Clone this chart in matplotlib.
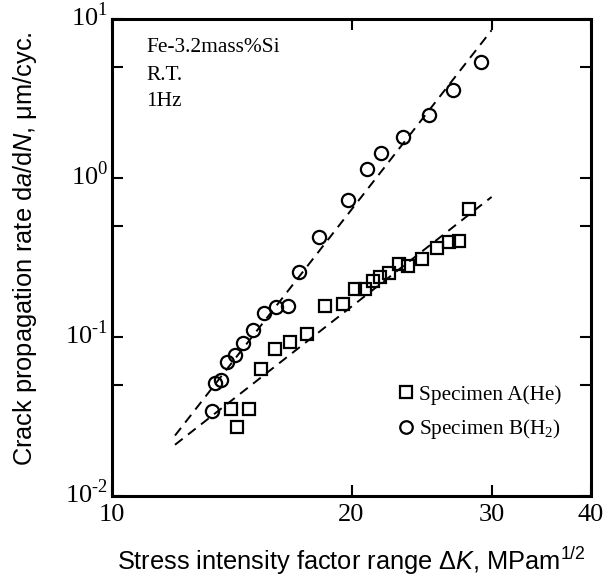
import numpy as np
import matplotlib
matplotlib.use('Agg')
import matplotlib.pyplot as plt
import matplotlib.transforms as mtransforms

plt.rcParams['mathtext.fontset'] = 'custom'
plt.rcParams['mathtext.rm'] = 'Liberation Serif'
plt.rcParams['mathtext.it'] = 'Liberation Sans:italic'
plt.rcParams['mathtext.sf'] = 'Liberation Sans'

# Specimen A (He) - squares
dk_a = [14.12, 14.37, 14.88, 15.38, 16.02, 16.74, 17.57, 18.54, 19.53, 20.22,
        20.81, 21.27, 21.72, 22.31, 22.93, 23.55, 24.53, 25.59, 26.54, 27.33, 28.07]
rate_a = [0.035, 0.027, 0.0351, 0.0627, 0.0838, 0.093, 0.104, 0.157, 0.161, 0.200,
          0.200, 0.225, 0.239, 0.254, 0.287, 0.281, 0.310, 0.361, 0.395, 0.404, 0.638]

# Specimen B (H2) - circles
dk_b = [13.36, 13.49, 13.70, 13.96, 14.29, 14.62, 15.05, 15.52, 16.07, 16.64,
        17.20, 18.22, 19.80, 20.94, 21.80, 23.23, 25.05, 26.80, 29.06]
rate_b = [0.0343, 0.0511, 0.0537, 0.070, 0.077, 0.0912, 0.111, 0.141, 0.155, 0.157,
          0.258, 0.428, 0.728, 1.14, 1.44, 1.82, 2.49, 3.58, 5.39]

# dashed fit lines (end points)
fit_x = [12.0, 30.0]
fit_a = [0.021, 0.76]
fit_b = [0.024, 8.5]

xticks = [10, 20, 30, 40]
yticks = [0.01, 0.1, 1, 10]
yexp = ['\u20102', '\u20101', '0', '1']

fig = plt.figure(figsize=(6.04, 5.78), dpi=100)
ax = fig.add_axes([112/604, 1-496/578, 479/604, 477/578])

ax.plot(fit_x, fit_a, color='k', ls=(0, (5, 3.5)), lw=1.4)
ax.plot(fit_x, fit_b, color='k', ls=(0, (5, 3.5)), lw=1.4)

ax.plot(dk_a, rate_a, ls='none', marker='s', ms=8.5, mfc='none', mec='k', mew=1.6,
        label='Specimen A(He)')
ax.plot(dk_b, rate_b, ls='none', marker='o', ms=9.5, mfc='none', mec='k', mew=1.6,
        label='Specimen B(H$_2$)')

ax.set_xscale('log')
ax.set_yscale('log')
ax.set_xlim(10, 40)
ax.set_ylim(0.01, 10)

ax.set_xticks(xticks)
ax.set_xticklabels([str(t) for t in xticks], family='Liberation Serif', fontsize=19)
ax.xaxis.set_minor_locator(matplotlib.ticker.NullLocator())
ax.set_yticks(yticks)
ax.set_yticklabels(['$\\mathrm{10}^{\\mathrm{%s}}$' % e for e in yexp], fontsize=19)
ax.set_yticks([0.05, 0.5, 5], minor=True)
ax.yaxis.set_minor_formatter(matplotlib.ticker.NullFormatter())

ax.tick_params(which='both', direction='in', top=True, right=True,
               length=8, width=1.5)
ax.tick_params(axis='x', pad=6)
ax.tick_params(axis='y', pad=3)
for s in ax.spines.values():
    s.set_linewidth(2.2)

# nudge y tick labels up a little
shift = mtransforms.ScaledTranslation(0, 4/100, fig.dpi_scale_trans)
for lab in ax.get_yticklabels():
    lab.set_transform(lab.get_transform() + shift)

txt = dict(family='Liberation Serif', fontsize=15.4, ha='left', va='center',
           transform=fig.transFigure)
fig.text(146/604, 1-48/578, 'Fe-3.2mass%Si', **txt)
fig.text(146/604, 1-76/578, 'R.T.', **txt)
fig.text(146/604, 1-102/578, '1Hz', **txt)

leg = ax.legend(loc='center left', bbox_to_anchor=(380/604, 1-413/578),
                bbox_transform=fig.transFigure, frameon=False, markerscale=0.95,
                handlelength=0.6, handletextpad=0.35, labelspacing=0.6,
                prop={'family': 'Liberation Serif', 'size': 15.3})

fig.text(25/604, 1-249/578, 'Crack propagation rate d$\\it{a}$/d$\\it{N}$, \u03bcm/cyc.',
         rotation=90, ha='center', va='center', family='Liberation Sans', fontsize=18.3)
fig.text(351/604, 1-561/578,
         'Stress intensity factor range \u0394$\\it{K}$, MPam$^{\\mathsf{1/2}}$',
         ha='center', va='center', family='Liberation Sans', fontsize=18.3)

fig.savefig('out.png', dpi=100)
